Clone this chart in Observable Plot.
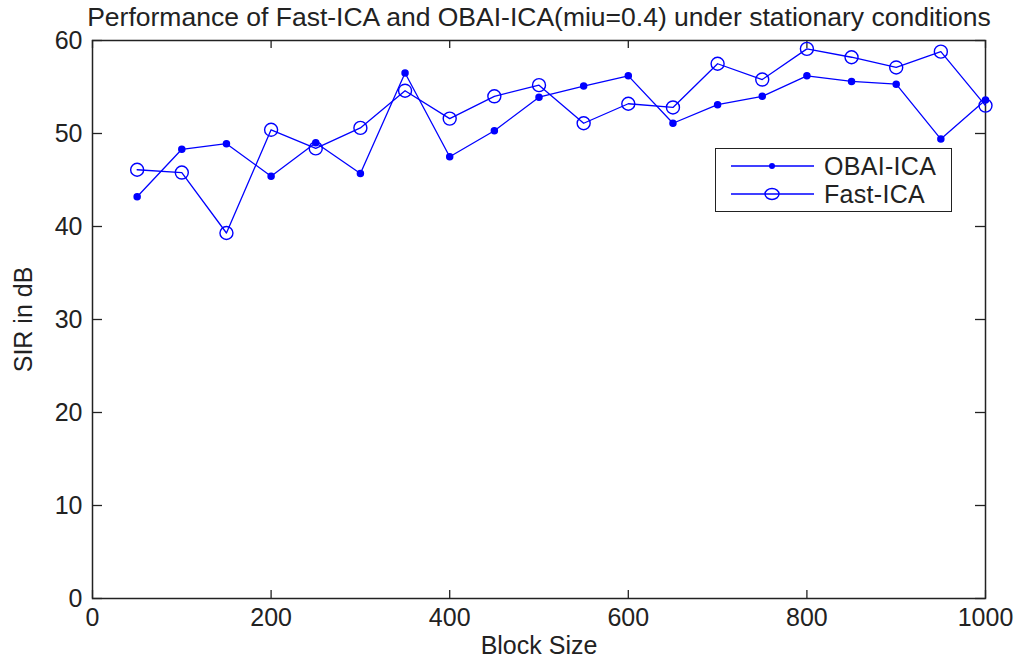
<!DOCTYPE html>
<html>
<head>
<meta charset="utf-8">
<script src="https://cdn.jsdelivr.net/npm/d3@7"></script>
<script src="https://cdn.jsdelivr.net/npm/@observablehq/plot@0.6"></script>
<style>
  html, body { margin: 0; padding: 0; background: #fff; }
  #wrap { position: relative; width: 1019px; height: 658px; font-family: "Liberation Sans", Arial, sans-serif; }
  #legend { position: absolute; left: 715px; top: 148px; width: 237px; height: 64px; border: 1.5px solid #222; background: #fff; box-sizing: border-box; }
  #legend .row { position: absolute; left: 0; height: 28px; display: flex; align-items: center; }
  #legend svg { display: block; }
  #legend span { font-size: 25px; color: #222; margin-left: 10px; letter-spacing: 0.3px; }
</style>
</head>
<body>
<div id="wrap"></div>
<script>
const blockSize = [50,100,150,200,250,300,350,400,450,500,550,600,650,700,750,800,850,900,950,1000];
const obaiICA = [43.2,48.3,48.9,45.4,49.0,45.7,56.5,47.5,50.3,53.9,55.1,56.2,51.1,53.1,54.0,56.2,55.6,55.3,49.4,53.6];
const fastICA = [46.1,45.8,39.3,50.4,48.4,50.6,54.6,51.6,54.0,55.2,51.1,53.2,52.8,57.5,55.8,59.1,58.2,57.1,58.8,53.0];
const xTicks = [0,200,400,600,800,1000];
const yTicks = [0,10,20,30,40,50,60];
const seriesNames = ["OBAI-ICA", "Fast-ICA"];
const title = "Performance of Fast-ICA and OBAI-ICA(miu=0.4) under stationary conditions";
const xLabel = "Block Size";
const yLabel = "SIR in dB";

const obai = blockSize.map((x, i) => ({x, y: obaiICA[i]}));
const fast = blockSize.map((x, i) => ({x, y: fastICA[i]}));
const blue = "#0000ff";
const ink = "#222";
const fs = 25;

const chart = Plot.plot({
  width: 1019,
  height: 658,
  marginLeft: 92,
  marginRight: 34,
  marginTop: 40,
  marginBottom: 60,
  style: {fontFamily: "Liberation Sans, Arial, sans-serif", fontSize: fs + "px", color: ink, background: "#fff"},
  x: {domain: [0, 1000]},
  y: {domain: [0, 60]},
  marks: [
    Plot.frame({stroke: ink, strokeWidth: 1.5}),
    // inward ticks on all four sides
    Plot.ruleX(xTicks, {x: d => d, y1: 0, y2: 0, insetTop: -8, stroke: ink, strokeWidth: 1.3}),
    Plot.ruleX(xTicks, {x: d => d, y1: 60, y2: 60, insetBottom: -8, stroke: ink, strokeWidth: 1.3}),
    Plot.ruleY(yTicks, {y: d => d, x1: 0, x2: 0, insetRight: -10, stroke: ink, strokeWidth: 1.3}),
    Plot.ruleY(yTicks, {y: d => d, x1: 1000, x2: 1000, insetLeft: -10, stroke: ink, strokeWidth: 1.3}),
    Plot.axisX(xTicks, {anchor: "bottom", tickSize: 0, tickPadding: 10, label: null, tickFormat: d => String(d), fontSize: fs}),
    Plot.axisY(yTicks, {anchor: "left", tickSize: 0, tickPadding: 10, label: null, tickFormat: d => String(d), fontSize: fs}),
    Plot.text([xLabel], {frameAnchor: "bottom", textAnchor: "middle", lineAnchor: "middle", dy: 47, fontSize: fs, fill: ink}),
    Plot.text([yLabel], {frameAnchor: "left", textAnchor: "middle", lineAnchor: "middle", dx: -69, rotate: -90, fontSize: fs, fill: ink}),
    Plot.text([title], {frameAnchor: "top", textAnchor: "middle", lineAnchor: "middle", dy: -23, fontSize: 26.5, fill: ink}),
    Plot.line(obai, {x: "x", y: "y", stroke: blue, strokeWidth: 1.3}),
    Plot.dot(obai, {x: "x", y: "y", r: 3, fill: blue, stroke: blue}),
    Plot.line(fast, {x: "x", y: "y", stroke: blue, strokeWidth: 1.3}),
    Plot.dot(fast, {x: "x", y: "y", r: 6.5, fill: "none", stroke: blue, strokeWidth: 1.4})
  ]
});

const wrap = document.getElementById("wrap");
wrap.appendChild(chart);

const legend = document.createElement("div");
legend.id = "legend";
seriesNames.forEach((name, i) => {
  const row = document.createElement("div");
  row.className = "row";
  row.style.top = (i === 0 ? 3 : 31) + "px";
  row.style.left = "15px";
  const marker = i === 0
    ? `<circle cx="41" cy="14" r="3" fill="${blue}"/>`
    : `<ellipse cx="41" cy="14" rx="7" ry="5.5" fill="none" stroke="${blue}" stroke-width="1.4"/>`;
  row.innerHTML = `<svg width="83" height="28"><line x1="0" x2="83" y1="14" y2="14" stroke="${blue}" stroke-width="1.3"/>${marker}</svg><span>${name}</span>`;
  legend.appendChild(row);
});
wrap.appendChild(legend);
</script>
</body>
</html>
